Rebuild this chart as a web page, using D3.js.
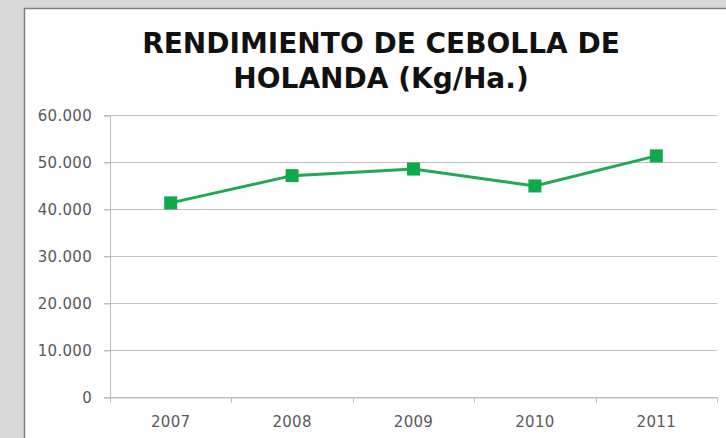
<!DOCTYPE html>
<html>
<head>
<meta charset="UTF-8">
<title>Rendimiento de cebolla de Holanda</title>
<script src="https://cdn.jsdelivr.net/npm/d3@7"></script>
<style>
    body {
        margin: 0;
        padding: 0;
        background: #d9d9d9;
    }
    .tick text {
        font-family: "DejaVu Sans", sans-serif;
        font-size: 15px;
        letter-spacing: 0.3px;
        fill: #595959;
    }
</style>
</head>
<body>
<script>
    const years = ["2007", "2008", "2009", "2010", "2011"];
    const yieldKgHa = [41300, 47100, 48500, 44900, 51300];
    const yTicks = [0, 10000, 20000, 30000, 40000, 50000, 60000];
    const titleLines = ["RENDIMIENTO DE CEBOLLA DE", "HOLANDA (Kg/Ha.)"];

    const width = 726, height = 438;
    const margin = {top: 115, right: 9, bottom: 41, left: 110};

    const svg = d3.select("body").append("svg")
        .attr("width", width)
        .attr("height", height);

    // chart area
    svg.append("rect")
        .attr("x", 24.5).attr("y", 8.5)
        .attr("width", width).attr("height", height)
        .attr("fill", "#ffffff")
        .attr("stroke", "#7f7f7f")
        .attr("stroke-width", 1.5);

    svg.append("g").selectAll("text")
        .data(titleLines)
        .join("text")
        .attr("x", 381)
        .attr("y", (d, i) => 53 + i * 35)
        .attr("text-anchor", "middle")
        .style("font-family", "'DejaVu Sans', sans-serif")
        .style("font-weight", "bold")
        .style("font-size", "28px")
        .attr("fill", "#111")
        .text(d => d);

    const x = d3.scaleBand()
        .domain(years)
        .range([margin.left, width - margin.right]);

    const y = d3.scaleLinear()
        .domain([0, 60000])
        .range([height - margin.bottom, margin.top]);

    const fmt = v => d3.format(",")(v).replace(/,/g, ".");

    // gridlines
    svg.append("g").selectAll("line")
        .data(yTicks)
        .join("line")
        .attr("x1", margin.left - 6)
        .attr("x2", width - margin.right)
        .attr("y1", d => Math.round(y(d)) + 0.5)
        .attr("y2", d => Math.round(y(d)) + 0.5)
        .attr("stroke", "#bfbfbf")
        .attr("stroke-width", 1);

    const yAxis = svg.append("g")
        .attr("transform", "translate(" + margin.left + ",0.5)")
        .call(d3.axisLeft(y).tickValues(yTicks).tickFormat(fmt).tickSize(6).tickPadding(12));
    yAxis.select(".domain").attr("stroke", "#bfbfbf");
    yAxis.selectAll(".tick line").attr("stroke", "#bfbfbf");

    const xAxis = svg.append("g")
        .attr("transform", "translate(0," + (Math.round(y(0)) + 0.5) + ")");
    xAxis.call(d3.axisBottom(x).tickSize(0).tickPadding(19));
    xAxis.select(".domain").attr("stroke", "#bfbfbf");
    // category boundary ticks
    xAxis.selectAll(".sep")
        .data(years.concat(["end"]))
        .join("line")
        .attr("class", "sep")
        .attr("x1", (d, i) => Math.round(margin.left + i * x.step()) + 0.5)
        .attr("x2", (d, i) => Math.round(margin.left + i * x.step()) + 0.5)
        .attr("y1", 0).attr("y2", 5)
        .attr("stroke", "#bfbfbf");

    const pts = years.map((d, i) => [x(d) + x.bandwidth() / 2, y(yieldKgHa[i])]);

    svg.append("path")
        .attr("d", d3.line()(pts))
        .attr("fill", "none")
        .attr("stroke", "#1fa855")
        .attr("stroke-width", 3);

    svg.append("g").selectAll("rect")
        .data(pts)
        .join("rect")
        .attr("x", d => d[0] - 6.5)
        .attr("y", d => d[1] - 6.5)
        .attr("width", 13)
        .attr("height", 13)
        .attr("fill", "#0fa84a");
</script>
</body>
</html>
